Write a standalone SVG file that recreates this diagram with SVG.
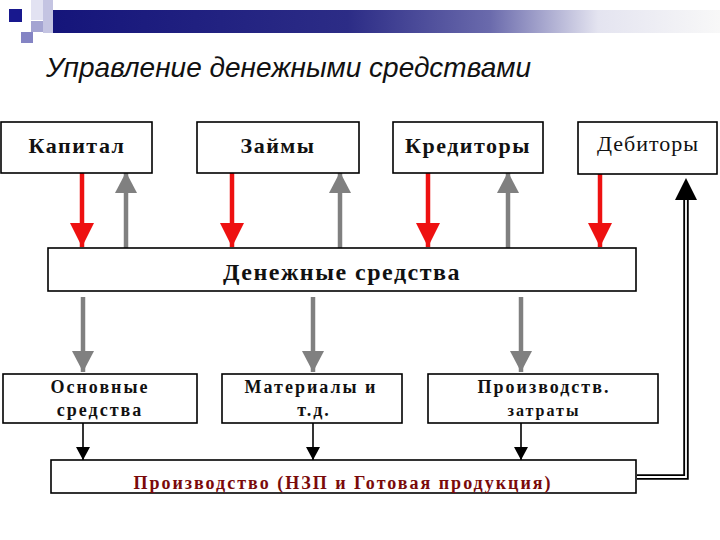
<svg xmlns="http://www.w3.org/2000/svg" width="720" height="540" viewBox="0 0 720 540">
<defs>
<linearGradient id="bar" x1="0" y1="0" x2="1" y2="0">
<stop offset="0" stop-color="#14147a"/>
<stop offset="0.45" stop-color="#2c2c86"/>
<stop offset="0.66" stop-color="#6a6aac"/>
<stop offset="0.82" stop-color="#e4e4f0"/>
<stop offset="1" stop-color="#f8f8f8"/>
</linearGradient>
<marker id="redHead" markerUnits="userSpaceOnUse" markerWidth="24" markerHeight="24" viewBox="0 0 24 24" refX="24" refY="12" orient="auto">
<path d="M0,0 L24,12 L0,24 Z" fill="#ee1111"/>
</marker>
<marker id="grayHead" markerUnits="userSpaceOnUse" markerWidth="21" markerHeight="22" viewBox="0 0 21 22" refX="21" refY="11" orient="auto">
<path d="M0,0 L21,11 L0,22 Z" fill="#808080"/>
</marker>
<marker id="blackHead" markerUnits="userSpaceOnUse" markerWidth="13" markerHeight="14" viewBox="0 0 13 14" refX="13" refY="7" orient="auto">
<path d="M0,0 L13,7 L0,14 Z" fill="#000"/>
</marker>
</defs>
<style>
.box{fill:#fff;stroke:#000;stroke-width:1.6}
.t{font-family:"Liberation Serif","Times New Roman",serif;font-weight:bold;fill:#111;text-anchor:middle}
.top{font-size:22px;letter-spacing:1.5px}
.bot{font-size:18px;letter-spacing:2px}
.red{stroke:#ee1111;stroke-width:4.5;fill:none}
.gray{stroke:#808080;stroke-width:4.5;fill:none}
.blk{stroke:#000;stroke-width:1.6;fill:none}
</style>
<rect width="720" height="540" fill="#fff"/>
<g id="decor">
<rect x="43" y="10" width="677" height="23" fill="url(#bar)"/>
<rect x="31" y="0" width="22" height="20" fill="#e2e2f2"/>
<rect x="43" y="0" width="10" height="33" fill="#c4c4e2"/>
<rect x="31" y="21" width="12" height="11" fill="#a4a4d2"/>
<rect x="21" y="32" width="12" height="11" fill="#8484c4"/>
<rect x="9" y="9" width="13" height="13" fill="#18188e"/>
</g>
<text x="46" y="77" font-family="Liberation Sans,Arial,sans-serif" font-style="italic" font-size="28" fill="#111">Управление денежными средствами</text>
<g id="connectors">
<line class="red" x1="82" y1="173" x2="82" y2="247" marker-end="url(#redHead)"/>
<line class="red" x1="232" y1="173" x2="232" y2="247" marker-end="url(#redHead)"/>
<line class="red" x1="428" y1="173" x2="428" y2="247" marker-end="url(#redHead)"/>
<line class="red" x1="600" y1="174" x2="600" y2="247" marker-end="url(#redHead)"/>
<line class="gray" x1="126" y1="248" x2="126" y2="172" marker-end="url(#grayHead)"/>
<line class="gray" x1="340" y1="248" x2="340" y2="172" marker-end="url(#grayHead)"/>
<line class="gray" x1="508" y1="248" x2="508" y2="172" marker-end="url(#grayHead)"/>
<line class="gray" x1="83" y1="297" x2="83" y2="372" marker-end="url(#grayHead)"/>
<line class="gray" x1="313" y1="297" x2="313" y2="372" marker-end="url(#grayHead)"/>
<line class="gray" x1="521" y1="297" x2="521" y2="372" marker-end="url(#grayHead)"/>
<line class="blk" x1="83" y1="423" x2="83" y2="460" marker-end="url(#blackHead)"/>
<line class="blk" x1="313" y1="423" x2="313" y2="460" marker-end="url(#blackHead)"/>
<line class="blk" x1="521" y1="423" x2="521" y2="460" marker-end="url(#blackHead)"/>
<path d="M637,477 H686 V199" fill="none" stroke="#000" stroke-width="5.5"/>
<path d="M637,477 H686 V199" fill="none" stroke="#fff" stroke-width="1.8"/>
<path d="M675,200 L686,178 L697,200 Z" fill="#000"/>
</g>
<g id="kapital"><rect class="box" x="1" y="122" width="151" height="51"/><text class="t top" x="77" y="153">Капитал</text></g>
<g id="zaimy"><rect class="box" x="197" y="122" width="162" height="51"/><text class="t top" x="278" y="153">Займы</text></g>
<g id="kreditory"><rect class="box" x="393" y="122" width="150" height="51"/><text class="t top" x="468" y="153">Кредиторы</text></g>
<g id="debitory"><rect class="box" x="578" y="122" width="139" height="52"/><text class="t top" x="648" y="151" style="font-weight:normal;letter-spacing:1px">Дебиторы</text></g>
<g id="money"><rect class="box" x="48" y="248" width="588" height="43"/><text class="t" x="342" y="280" font-size="24" letter-spacing="1.5">Денежные средства</text></g>
<g id="osnovnye"><rect class="box" x="3" y="374" width="194" height="49"/><text class="t bot" x="100" y="393">Основные</text><text class="t bot" x="100" y="416">средства</text></g>
<g id="materialy"><rect class="box" x="222" y="374" width="180" height="49"/><text class="t bot" x="311" y="393">Материалы и</text><text class="t bot" x="314" y="416">т.д.</text></g>
<g id="zatraty"><rect class="box" x="428" y="374" width="230" height="49"/><text class="t bot" x="544" y="393">Производств.</text><text class="t" x="544" y="416" font-size="16" letter-spacing="2">затраты</text></g>
<g id="proizvodstvo"><rect class="box" x="51" y="460" width="585" height="33"/><text class="t bot" x="343" y="489" style="fill:#7a0a0a">Производство (НЗП  и Готовая продукция)</text></g>
</svg>
